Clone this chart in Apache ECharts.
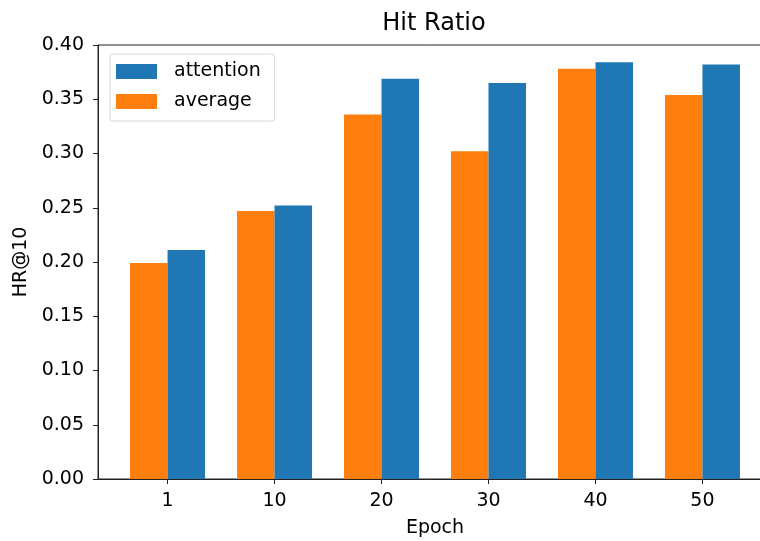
<!DOCTYPE html>
<html>
<head>
<meta charset="utf-8">
<script src="https://cdn.jsdelivr.net/npm/echarts@6/dist/echarts.min.js"></script>
<style>html,body{margin:0;padding:0;background:#fff;}#c{width:760px;height:541px;}</style>
</head>
<body>
<div id="c"></div>
<script>
const categories = ['1', '10', '20', '30', '40', '50'];
const average = [0.199, 0.247, 0.336, 0.302, 0.378, 0.354];
const attention = [0.211, 0.252, 0.369, 0.365, 0.384, 0.382];

const idx = categories.map((c, i) => i);
const font = 'DejaVu Sans';
const chart = echarts.init(document.getElementById('c'), null, {renderer: 'canvas'});
chart.setOption({
  animation: false,
  backgroundColor: '#fff',
  title: {
    text: 'Hit Ratio', left: 429, top: 7, textAlign: 'center',
    textStyle: {fontFamily: font, fontSize: 24, fontWeight: 'normal', color: '#000'}
  },
  legend: {
    orient: 'vertical', left: 110, top: 54,
    data: ['attention', 'average'],
    itemWidth: 41, itemHeight: 15, itemGap: 11,
    padding: [8, 14, 10, 6],
    borderColor: '#d8d8d8', borderWidth: 1, borderRadius: 3,
    icon: 'rect',
    textStyle: {fontFamily: font, fontSize: 19, color: '#000', padding: [0, 0, 0, 12]}
  },
  grid: {
    left: 98, top: 45, right: -12, bottom: 62,
    outerBoundsMode: 'none',
    show: true, borderColor: '#222', borderWidth: 1, backgroundColor: 'transparent'
  },
  xAxis: {
    type: 'value', min: -0.65, max: 5.65,
    name: 'Epoch', nameLocation: 'middle', nameGap: 40,
    nameTextStyle: {fontFamily: font, fontSize: 19, color: '#000'},
    splitLine: {show: false},
    axisLine: {show: true, onZero: false, lineStyle: {color: '#222', width: 1}},
    axisTick: {show: true, customValues: idx, length: 5, lineStyle: {color: '#222'}},
    axisLabel: {
      customValues: idx, margin: 13,
      formatter: v => categories[Math.round(v)],
      fontFamily: font, fontSize: 19, color: '#000'
    }
  },
  yAxis: {
    type: 'value', min: 0, max: 0.4, interval: 0.05,
    name: 'HR@10', nameLocation: 'middle', nameGap: 59, nameRotate: 90,
    nameTextStyle: {fontFamily: font, fontSize: 19, color: '#000'},
    splitLine: {show: false},
    axisLine: {show: true, onZero: false, lineStyle: {color: '#222', width: 1}},
    axisTick: {show: true, length: 5, lineStyle: {color: '#222'}},
    axisLabel: {
      margin: 14,
      formatter: v => v.toFixed(2),
      fontFamily: font, fontSize: 19, color: '#000'
    }
  },
  series: [
    {
      name: 'average', type: 'bar', barWidth: 37.5, barGap: '0%',
      itemStyle: {color: '#ff7f0e'},
      data: idx.map(i => [i, average[i]])
    },
    {
      name: 'attention', type: 'bar', barWidth: 37.5, barGap: '0%',
      itemStyle: {color: '#1f77b4'},
      data: idx.map(i => [i, attention[i]])
    }
  ]
});
</script>
</body>
</html>
